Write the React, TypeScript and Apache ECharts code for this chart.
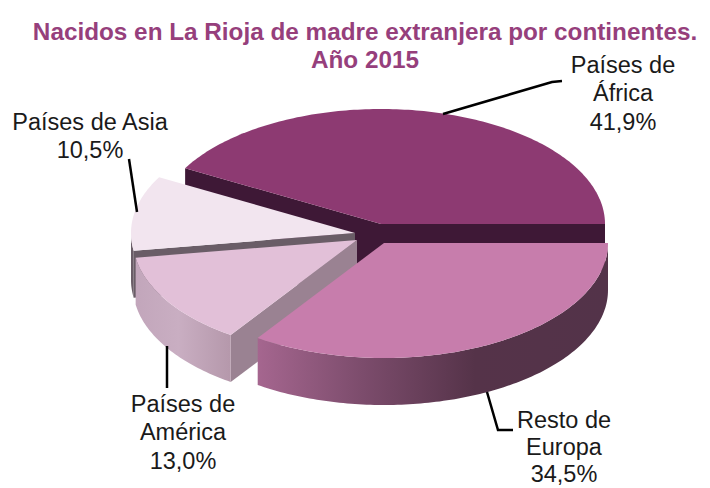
import React, { useEffect, useRef } from "react";
import * as echarts from "echarts";

const titleText = "Nacidos en La Rioja de madre extranjera por continentes.\nAño 2015";
const labelNames = ["Países de\nÁfrica", "Países de Asia", "Países de\nAmérica", "Resto de\nEuropa"];
const shares = [41.9, 10.5, 13.0, 34.5];

const topColors = ["#8d3a72", "#f2e5ef", "#e2c0d8", "#c77dac"];
const cutColors = ["#3e1836", "#6a5d67", "#9a8292", "#533349"];
const wallStops: [number, string][][] = [
  [[0, "#3e1836"], [1, "#3e1836"]],
  [[0, "#6a5d67"], [1, "#6a5d67"]],
  [[0, "#c2a6bb"], [0.45, "#c9aec2"], [1, "#b598ab"]],
  [[0, "#a5668f"], [0.3, "#7c4c6c"], [0.62, "#553349"], [1, "#533349"]],
];

const centers = [[381, 224], [355, 233], [357, 240], [384, 243]];
const radiusX = 224;
const radiusY = 115;
const depth = 47;
const labelAnchors = [[623, 93], [90, 136], [183, 432], [564, 447]];
const labelLineHeights = [28.5, 28.5, 28.5, 27];
const leaders = [
  [[443, 114], [552, 82], [562, 81]],
  [[129, 159], [137, 212]],
  [[167, 346], [167, 388]],
  [[487, 392], [498, 430], [513, 430]],
];

const total = shares.reduce((a, b) => a + b, 0);
const LABEL_FONT = '23.5px "Liberation Sans"';

function rim(c: number[], deg: number, dy = 0): number[] {
  const r = (deg * Math.PI) / 180;
  return [c[0] + radiusX * Math.cos(r), c[1] - radiusY * Math.sin(r) + dy];
}

function arc(c: number[], from: number, to: number, dy = 0): number[][] {
  const pts: number[][] = [];
  const n = Math.max(2, Math.ceil(Math.abs(to - from)));
  for (let i = 0; i <= n; i++) pts.push(rim(c, from + ((to - from) * i) / n, dy));
  return pts;
}

function cutFace(c: number[], deg: number, fill: string) {
  const p = rim(c, deg);
  return {
    type: "polygon",
    shape: { points: [c, p, [p[0], p[1] + depth], [c[0], c[1] + depth]] },
    style: { fill },
  };
}

function renderSlice(params: any, api: any) {
  const i = params.dataIndex;
  let before = 0;
  for (let k = 0; k < i; k++) before += shares[k];
  const start = (before / total) * 360;
  const end = start + (api.value(0) / total) * 360;
  const c = centers[i];
  const children: any[] = [];

  if (Math.cos((start * Math.PI) / 180) > 0) children.push(cutFace(c, start, cutColors[i]));
  if (Math.cos((end * Math.PI) / 180) < 0) children.push(cutFace(c, end, cutColors[i]));

  const wallFrom = Math.max(start, 180);
  if (end > 180) {
    const upper = arc(c, wallFrom, end);
    const lower = arc(c, wallFrom, end, depth).reverse();
    children.push({
      type: "polygon",
      shape: { points: upper.concat(lower) },
      style: {
        fill: {
          type: "linear",
          x: 0,
          y: 0,
          x2: 1,
          y2: 0,
          colorStops: wallStops[i].map(([offset, color]) => ({ offset, color })),
        },
      },
    });
  }

  children.push({
    type: "polygon",
    shape: { points: [c].concat(arc(c, start, end)) },
    style: { fill: topColors[i] },
  });

  children.push({
    type: "polyline",
    shape: { points: leaders[i] },
    style: { stroke: "#000000", lineWidth: 2.5, fill: "none" },
    z2: 10,
  });

  const pct = api.value(0).toFixed(1).replace(".", ",") + "%";
  children.push({
    type: "text",
    z2: 10,
    style: {
      text: labelNames[i] + "\n" + pct,
      x: labelAnchors[i][0],
      y: labelAnchors[i][1],
      align: "center",
      verticalAlign: "middle",
      font: LABEL_FONT,
      lineHeight: labelLineHeights[i],
      fill: "#1a1a1a",
    },
  });

  return { type: "group", children };
}

export default function App() {
  const ref = useRef<HTMLDivElement>(null);
  useEffect(() => {
    document.body.style.margin = "0";
    const chart = echarts.init(ref.current!, null, { renderer: "svg" });
    chart.setOption({
      animation: false,
      backgroundColor: "#ffffff",
      title: {
        text: titleText,
        left: 360,
        top: 12,
        textAlign: "center",
        textStyle: {
          fontFamily: "Liberation Sans",
          fontWeight: "bold",
          fontSize: 24.3,
          lineHeight: 28,
          color: "#963f7c",
        },
      },
      series: [
        {
          type: "custom",
          coordinateSystem: "none",
          silent: true,
          clip: false,
          renderItem: renderSlice,
          data: shares.map((v) => [v]),
          encode: { value: 0 },
        },
      ],
    });
    return () => chart.dispose();
  }, []);
  return <div ref={ref} style={{ position: "absolute", left: 0, top: 0, width: 710, height: 488 }} />;
}
